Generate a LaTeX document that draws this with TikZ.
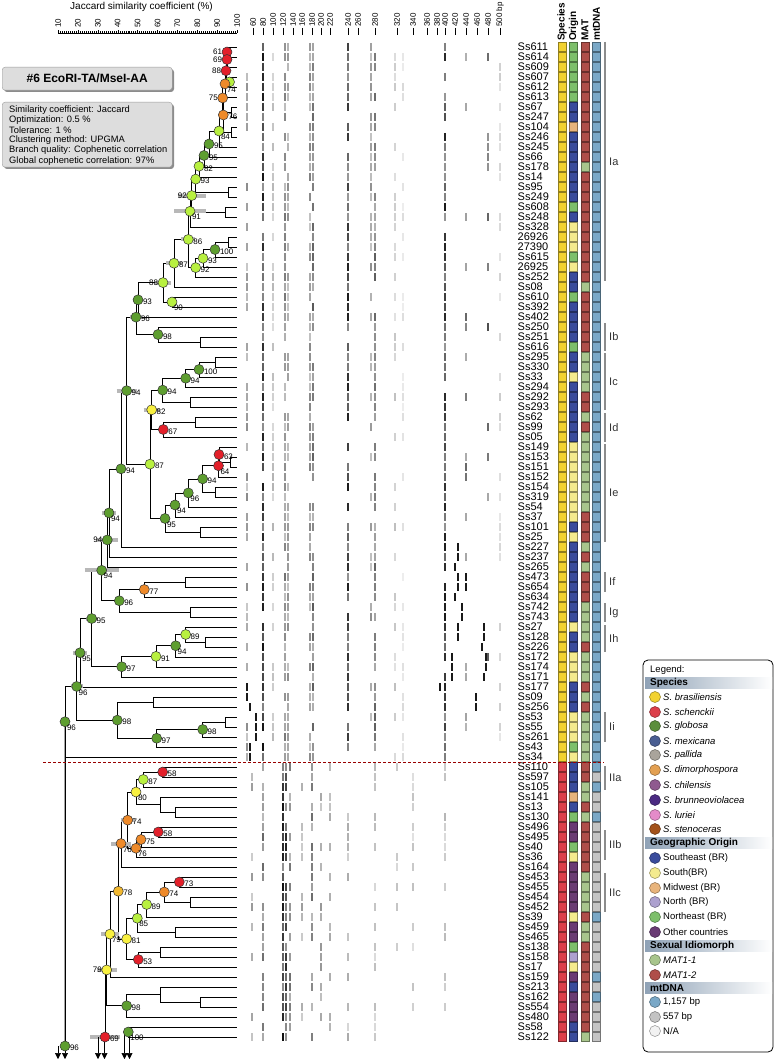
\documentclass[tikz,border=0pt]{standalone}
\usepackage{fontspec}
\setmainfont{Liberation Sans}
\usetikzlibrary{calc,arrows.meta}
\definecolor{spY}{HTML}{F2D230}
\definecolor{spR}{HTML}{DC3F4A}
\definecolor{orB}{HTML}{3A4C9C}
\definecolor{orY}{HTML}{F4EB8E}
\definecolor{orM}{HTML}{E8B47C}
\definecolor{orN}{HTML}{ADA1CF}
\definecolor{orE}{HTML}{7DBF6B}
\definecolor{orO}{HTML}{6A3B74}
\definecolor{matG}{HTML}{A8C58C}
\definecolor{matR}{HTML}{AF4E49}
\definecolor{mtL}{HTML}{7AA8C7}
\definecolor{mtS}{HTML}{C3C3C3}
\definecolor{mtN}{HTML}{F2F2F2}
\definecolor{lgGlo}{HTML}{5B8E3C}
\definecolor{lgMex}{HTML}{4A5E92}
\definecolor{lgPal}{HTML}{A9A49B}
\definecolor{lgDim}{HTML}{E3A052}
\definecolor{lgChi}{HTML}{8F5A8F}
\definecolor{lgBru}{HTML}{4B2A82}
\definecolor{lgLur}{HTML}{E48BC9}
\definecolor{lgSte}{HTML}{A3521B}
\definecolor{ndR}{HTML}{E3202A}
\definecolor{ndO}{HTML}{EE8A2A}
\definecolor{ndYO}{HTML}{F2B830}
\definecolor{ndY}{HTML}{F8F040}
\definecolor{ndLG}{HTML}{B8F040}
\definecolor{ndDG}{HTML}{5E9E30}
\definecolor{hdr}{HTML}{8FA2B6}
\definecolor{boxg}{HTML}{DDDDDD}
\pgfdeclarelayer{bg}
\pgfsetlayers{bg,main}
\tikzset{
  sq/.style={minimum width=8pt, minimum height=8.5pt, inner sep=0pt, fill=#1, draw=#1!60!black, line width=0.6pt},
  br/.style={line width=0.6pt, black},
  tnd/.style={circle, minimum size=10pt, inner sep=0pt, draw=black!80, line width=0.5pt, fill=#1},
  lgc/.style={circle, minimum size=11pt, inner sep=0pt, draw=#1!60!black, line width=0.5pt, fill=#1},
  lgt/.style={anchor=west, inner sep=0pt, font=\fontsize{9.5}{10}\selectfont},
  lgh/.style={anchor=west, inner sep=0pt, font=\fontsize{10}{10}\selectfont\bfseries},
  cl/.style={line width=1.4pt, black!45},
  cllab/.style={anchor=west, inner sep=0pt, font=\fontsize{11}{11}\selectfont, black!80},
  nlab/.style={inner sep=0.3pt, font=\fontsize{8}{8}\selectfont},
  lpr/.style={anchor=west, xshift=4.5pt, yshift=-2pt},
  lpl/.style={anchor=east, xshift=-4.5pt},
  lpb/.style={anchor=north west, xshift=1.5pt, yshift=-2.5pt},
  lpn/.style={opacity=0},
  ebar/.style={line width=4pt, black!28},
  darr/.style={line width=0.6pt, -{Triangle[length=6pt, width=6pt]}},
  band/.style={line width=1.3pt},
}
\newcommand\tnode[4]{% name, x, child1, child2
  \path let \p1=($(#3)!.5!(#4)$) in coordinate (#1) at (#2pt, \y1);
  \begin{pgfonlayer}{bg}\draw[br] (#1) |- (#3); \draw[br] (#1) |- (#4);\end{pgfonlayer}}
\newcommand\cnode[4]{% name, colour, label, label side
  \node[tnd=#2] (c-#1) at (#1) {}; \node[nlab, lp#4] (t-#1) at (#1) {#3};}
\newcommand\errbar[2]{% name, half width
  \begin{pgfonlayer}{bg}\draw[ebar] ($(#1)+(-#2,0)$) -- ($(#1)+(#2,0)$);\end{pgfonlayer}}
\begin{document}
\begin{tikzpicture}[x=1pt,y=-1pt]
\useasboundingbox (0,0) rectangle (776,1059);
% ---------- header
\node[anchor=west, inner sep=0pt, font=\fontsize{10}{10}\selectfont] (jtitle) at (70,7) {Jaccard similarity coefficient (\%)};
\draw[line width=0.5pt] (58,33) -- (237,33);
\foreach \v in {10,...,100} { \draw[line width=0.3pt] ({38.1+1.99*\v},33) -- ({38.1+1.99*\v},31.5); }
\foreach \v in {10,20,...,100} {
  \draw[line width=0.4pt] ({38.1+1.99*\v},33) -- ({38.1+1.99*\v},30);
  \node[rotate=90, anchor=west, inner sep=0pt, font=\fontsize{8}{8}\selectfont] (jl\v) at ({38.1+1.99*\v},28) {\v};
}
\foreach \b/\x in {60/253,80/263,100/273,120/283,140/293,160/302,180/312,200/321,220/330,240/348,260/358,280/375,320/397,340/413,360/427,380/437,400/445,420/455,440/466,460/477,480/488} {
  \draw[line width=0.5pt] (\x,28) -- (\x,35);
  \node[rotate=90, anchor=west, inner sep=0pt, font=\fontsize{8}{8}\selectfont] (bl\b) at (\x,27) {\b};
}
\draw[line width=0.5pt] (500,28) -- (500,35);
\node[rotate=90, anchor=west, inner sep=0pt, font=\fontsize{8}{8}\selectfont] (bl500) at (500,27) {500 bp};
\foreach \t/\x in {Species/562,Origin/573.5,MAT/585,mtDNA/596.5} {
  \node[rotate=90, anchor=west, inner sep=0pt, font=\fontsize{10}{10}\selectfont\bfseries] (h\t) at (\x,41) {\t};
}
% ---------- info boxes
\fill[black!45, rounded corners=3pt] (4,69) rectangle (174,92);
\node[draw=black!40, fill=boxg, rounded corners=3pt, minimum width=170pt, minimum height=23pt, anchor=north west, inner sep=0pt, font=\fontsize{12}{12}\selectfont\bfseries] (title) at (2,67) {\#6 EcoRI-TA/MseI-AA};
\fill[black!45, rounded corners=3pt] (4,104) rectangle (174,169);
\node[draw=black!40, fill=boxg, rounded corners=3pt, minimum width=170pt, minimum height=65pt, anchor=north west, inner sep=0pt] (info) at (2,102) {};
\foreach \t [count=\k] in {Similarity coefficient: Jaccard, Optimization: 0.5 \%, Tolerance: 1 \%, Clustering method: UPGMA, Branch quality: Cophenetic correlation, Global cophenetic correlation: 97\%} {
  \node[anchor=west, inner sep=0pt, font=\fontsize{9.3}{10}\selectfont] (info\k) at (9,{99.5+10.2*\k}) {\t};
}
% ---------- leaves
\foreach \i in {1,...,100} { \coordinate (L\i) at (237,{47+10*(\i-1)}); }
% ---------- gel bands (pseudo pattern)
\pgfmathsetseed{11}
\foreach \r in {1,...,72} {
  \pgfmathsetmacro\yy{47+10*(\r-1)}
  \foreach \bx/\p/\d in {247/.5/45, 263/.95/95, 273/.6/30, 285/.8/55, 288/.7/45, 310/.7/50, 313/.8/65, 348/.9/90, 371/.6/45, 375/.8/65, 395/.5/25, 403/.4/15, 445/.9/90, 466/.2/60, 488/.2/70, 500/.4/20} {
    \pgfmathparse{rnd<\p ? 1 : 0}
    \ifnum\pgfmathresult=1
      \pgfmathsetmacro\sh{\d*(0.45+0.55*rnd)}
      \draw[band, black!\sh] (\bx,\yy-4) -- (\bx,\yy+4);
    \fi
  }
}
\foreach \r/\bx in {51/458,52/458,53/455,54/458,55/458,56/455,57/462,58/462,54/466,55/466,59/484,60/484,61/482,62/486,63/486,64/484,59/458,60/458,62/452,63/452,64/452,65/440,66/476,67/476,65/247,66/247,67/250,68/256,69/256,70/256,71/250,72/250} {
  \pgfmathsetmacro\yy{47+10*(\r-1)}
  \draw[line width=2pt, black!90] (\bx,\yy-4) -- (\bx,\yy+4);
}
\foreach \r in {73,...,100} {
  \pgfmathsetmacro\yy{47+10*(\r-1)}
  \foreach \bx/\p/\d in {252/.5/40, 263/.7/60, 283/.95/95, 286/.9/90, 290/.6/60, 302/.5/40, 312/.7/60, 321/.6/45, 330/.5/35, 348/.5/35, 375/.5/30, 397/.4/25, 413/.4/25, 445/.5/30} {
    \pgfmathparse{rnd<\p ? 1 : 0}
    \ifnum\pgfmathresult=1
      \pgfmathsetmacro\sh{\d*(0.45+0.55*rnd)}
      \draw[band, black!\sh] (\bx,\yy-4) -- (\bx,\yy+4);
    \fi
  }
}
% ---------- labels and squares
\foreach \i/\lab/\o/\m/\t in {1/Ss611/E/R/L,2/Ss614/E/R/L,3/Ss609/E/R/L,4/Ss607/E/R/L,5/Ss612/E/R/L,6/Ss613/E/R/L,7/Ss67/B/R/L,8/Ss247/B/R/L,9/Ss104/M/R/L,10/Ss246/B/R/L,11/Ss245/B/R/L,12/Ss66/B/R/L,13/Ss178/B/G/L,14/Ss14/B/R/L,15/Ss95/B/R/L,16/Ss249/B/R/L,17/Ss608/E/R/L,18/Ss248/B/R/L,19/Ss328/Y/R/L,20/26926/Y/R/L,21/27390/Y/R/L,22/Ss615/E/R/L,23/26925/Y/R/L,24/Ss252/B/R/L,25/Ss08/B/G/L,26/Ss610/E/R/L,27/Ss392/B/R/L,28/Ss402/B/R/L,29/Ss250/B/R/L,30/Ss251/B/R/L,31/Ss616/E/R/L,32/Ss295/B/G/L,33/Ss330/B/G/L,34/Ss33/Y/G/L,35/Ss294/B/G/L,36/Ss292/B/R/L,37/Ss293/B/R/L,38/Ss62/B/G/L,39/Ss99/B/R/L,40/Ss05/B/G/L,41/Ss149/Y/G/L,42/Ss153/Y/G/L,43/Ss151/Y/G/L,44/Ss152/Y/G/L,45/Ss154/Y/G/L,46/Ss319/Y/G/L,47/Ss54/Y/G/L,48/Ss37/Y/R/L,49/Ss101/B/R/L,50/Ss25/Y/R/L,51/Ss227/B/G/L,52/Ss237/B/R/L,53/Ss265/B/G/L,54/Ss473/B/R/L,55/Ss654/B/R/L,56/Ss634/B/R/L,57/Ss742/B/G/L,58/Ss743/B/G/L,59/Ss27/Y/G/L,60/Ss128/B/G/L,61/Ss226/B/R/L,62/Ss172/Y/G/L,63/Ss174/Y/G/L,64/Ss171/Y/G/L,65/Ss177/B/R/L,66/Ss09/B/G/L,67/Ss256/B/R/L,68/Ss53/Y/G/L,69/Ss55/Y/G/L,70/Ss261/Y/G/L,71/Ss43/E/G/L,72/Ss34/Y/G/L,73/Ss110/B/R/L,74/Ss597/B/R/S,75/Ss105/B/G/L,76/Ss141/M/G/S,77/Ss13/B/R/S,78/Ss130/E/G/L,79/Ss496/O/R/S,80/Ss495/O/R/S,81/Ss40/E/R/S,82/Ss36/Y/R/S,83/Ss164/O/R/S,84/Ss453/O/G/S,85/Ss455/O/G/S,86/Ss454/O/G/S,87/Ss452/O/G/S,88/Ss39/Y/R/L,89/Ss459/O/G/S,90/Ss465/O/G/S,91/Ss138/E/R/S,92/Ss158/N/R/S,93/Ss17/Y/R/S,94/Ss159/O/R/L,95/Ss213/B/R/S,96/Ss162/O/R/L,97/Ss554/O/R/S,98/Ss480/O/R/S,99/Ss58/B/R/S,100/Ss122/B/G/S} {
  \pgfmathsetmacro\yy{47+10*(\i-1)}
  \node[anchor=west, inner sep=0pt, font=\fontsize{11}{11}\selectfont] (lab\i) at (517.5,\yy) {\lab};
  \ifnum\i<73 \def\spc{spY}\else\def\spc{spR}\fi
  \node[sq=\spc] (sa\i) at (562,\yy) {};
  \node[sq=or\o] (sb\i) at (573.5,\yy) {};
  \node[sq=mat\m] (sc\i) at (585,\yy) {};
  \node[sq=mt\t] (sd\i) at (596.5,\yy) {};
}
% ---------- clade bars
\foreach \a/\b/\t in {42/281/Ia, 323/351/Ib, 353/410/Ic, 413/442/Id, 444/542/Ie, 572/592/If, 603/622/Ig, 625/652/Ih, 712/742/Ii, 766/790/IIa, 830/860/IIb, 873/912/IIc} {
  \draw[cl] (605,\a) -- (605,\b);
  \node[cllab] (c\t) at (609,{(\a+\b)/2}) {\t};
}
% ---------- dashed separator
\draw[red!60!black, line width=0.6pt, dash pattern=on 3pt off 2pt] (43,762) -- (604,762);
% ---------- tree: cluster I
\tnode{n1}{227}{L1}{L2}
\tnode{n2}{227}{n1}{L3}
\tnode{n3}{229.5}{L4}{L5}
\tnode{n4}{226}{n2}{n3}
\tnode{n5}{225}{n4}{L6}
\tnode{n6a}{231}{L7}{L8}
\tnode{n6}{222.7}{n5}{n6a}
\tnode{n7a}{231}{L9}{L10}
\tnode{n7}{223.3}{n6}{n7a}
\tnode{n8}{219}{n7}{L11}
\tnode{n9}{209}{n8}{L12}
\tnode{n10}{204}{n9}{L13}
\tnode{n11}{199}{n10}{L14}
\tnode{n12a}{228}{L15}{L16}
\tnode{n12}{195.7}{n11}{n12a}
\tnode{n13a}{225}{L17}{L18}
\tnode{n13}{191.7}{n12}{n13a}
\tnode{n14}{190}{n13}{L19}
\tnode{n16a}{228}{L20}{L21}
\tnode{n16}{215}{n16a}{L22}
\tnode{n17}{203}{n16}{L23}
\tnode{n18}{195.7}{n17}{L24}
\tnode{n86}{188.3}{n14}{n18}
\tnode{n87}{174}{n86}{L25}
\tnode{n90}{172}{L26}{L27}
\tnode{n88}{163}{n87}{n90}
\tnode{n93}{138}{n88}{L28}
\tnode{b1}{200}{L30}{L31}
\tnode{b2}{158}{L29}{b1}
\tnode{n96}{136}{n93}{b2}
\tnode{c1}{215}{L32}{L33}
\tnode{a1}{199}{c1}{L34}
\tnode{a2}{185.7}{a1}{L35}
\tnode{cb}{190}{L36}{L37}
\tnode{a3}{162.7}{a2}{cb}
\tnode{d1}{195}{L38}{L39}
\tnode{d2}{163.3}{d1}{L40}
\tnode{k82}{151.7}{a3}{d2}
\tnode{e0}{230}{L42}{L43}
\tnode{e1}{219}{L41}{e0}
\tnode{e2}{218.5}{e1}{L44}
\tnode{e3a}{215}{L45}{L46}
\tnode{e3}{202.7}{e2}{e3a}
\tnode{e4}{188.3}{e3}{L47}
\tnode{e5}{175}{e4}{L48}
\tnode{e6a}{200}{L49}{L50}
\tnode{e6}{165}{e5}{e6a}
\tnode{k87}{150}{k82}{e6}
\tnode{m94a}{126.7}{n96}{k87}
\tnode{m94b}{121}{m94a}{L51}
\tnode{m94c}{109}{m94b}{L52}
\tnode{m94d}{107.3}{m94c}{L53}
\tnode{f1}{185}{L54}{L55}
\tnode{f77}{144.3}{f1}{L56}
\tnode{g1}{190}{L57}{L58}
\tnode{f96}{119.3}{f77}{g1}
\tnode{m94e}{101.7}{m94d}{f96}
\tnode{h1}{205}{L60}{L61}
\tnode{h89}{185.7}{L59}{h1}
\tnode{h94}{175.7}{h89}{L62}
\tnode{h91}{156}{h94}{L63}
\tnode{h97}{121.7}{h91}{L64}
\tnode{m95}{91.7}{m94e}{h97}
\tnode{m95b}{80}{m95}{L65}
\tnode{i1}{153}{L66}{L67}
\tnode{i2}{225}{L68}{L69}
\tnode{i98}{202.7}{i2}{L70}
\tnode{i97}{156.7}{i98}{L71}
\tnode{i98b}{117.3}{i1}{i97}
\tnode{m96}{76.7}{m95b}{i98b}
\tnode{root1}{65}{m96}{L72}
% ---------- tree: cluster II
\tnode{s1}{162.7}{L73}{L74}
\tnode{s2}{143.3}{s1}{L75}
\tnode{s3}{175}{L77}{L78}
\tnode{s4}{160}{L76}{s3}
\tnode{s5}{136}{s2}{s4}
\tnode{s6}{158.3}{L79}{L80}
\tnode{s7}{141}{s6}{L81}
\tnode{s8}{136}{s7}{L82}
\tnode{s9}{127.7}{s5}{s8}
\tnode{s10}{121}{s9}{L83}
\tnode{t1}{179.3}{L84}{L85}
\tnode{t2a}{190}{L86}{L87}
\tnode{t2}{164.3}{t1}{t2a}
\tnode{t3}{146.7}{t2}{L88}
\tnode{t4a}{175}{L89}{L90}
\tnode{t4}{137.3}{t3}{t4a}
\tnode{u1}{160}{L91}{L92}
\tnode{u53}{138.3}{u1}{L93}
\tnode{u81}{126.7}{t4}{u53}
\tnode{w78}{118.3}{s10}{u81}
\tnode{w79a}{110}{w78}{L94}
\tnode{v1a}{200}{L96}{L97}
\tnode{v1}{160}{L95}{v1a}
\tnode{v98}{126.7}{v1}{L98}
\tnode{w79b}{106.7}{w79a}{v98}
\tnode{x100}{128.3}{L99}{L100}
% ---------- bottom continuation
\coordinate (z96) at (65,1046);
\coordinate (z69) at (105,1037);
\begin{pgfonlayer}{bg}
\draw[line width=2.2pt, black!35] (root1) -- (z96);
\draw[br] (root1) -- (z96);
\draw[br] (w79b) -| (z69);
\end{pgfonlayer}
\draw[darr] (58,1046) -- (58,1059);
\draw[darr] (65,1046) -- (65,1059);
\draw[darr] (98,1037) -- (98,1059);
\draw[darr] (104.5,1037) -- (104.5,1059);
\draw[darr] (124.5,1032) -- (124.5,1059);
\draw[darr] (129.5,1032) -- (129.5,1059);
% ---------- error bars
\errbar{n13}{14} \errbar{n14}{16} \errbar{n87}{8} \errbar{n88}{8} \errbar{n96}{6}
\errbar{m94a}{10} \errbar{k82}{8} \errbar{m94d}{11} \errbar{m94e}{17} \errbar{m95b}{7}
\errbar{m96}{6} \errbar{s9}{7} \errbar{s10}{10} \errbar{w79a}{9} \errbar{w79b}{10} \errbar{z69}{15}
\errbar{m95}{6} \errbar{m94c}{7} \errbar{n86}{7} \errbar{n93}{5}
% ---------- node circles
\cnode{n1}{ndR}{61}{l} \cnode{n2}{ndR}{69}{l} \cnode{n3}{ndLG}{}{n} \cnode{n4}{ndR}{88}{l}
\cnode{n5}{ndO}{74}{b} \cnode{n6}{ndO}{75}{l} \cnode{n7}{ndO}{76}{r} \cnode{n8}{ndLG}{84}{b}
\cnode{n9}{ndDG}{95}{r} \cnode{n10}{ndDG}{95}{r} \cnode{n11}{ndLG}{82}{r} \cnode{n12}{ndLG}{93}{r}
\cnode{n13}{ndLG}{92}{l} \cnode{n14}{ndLG}{91}{b} \cnode{n16}{ndDG}{100}{r} \cnode{n17}{ndLG}{93}{r}
\cnode{n18}{ndLG}{92}{r} \cnode{n86}{ndLG}{86}{r} \cnode{n87}{ndLG}{87}{r} \cnode{n90}{ndLG}{90}{b}
\cnode{n88}{ndLG}{88}{l} \cnode{n93}{ndDG}{93}{r} \cnode{b2}{ndDG}{98}{r} \cnode{n96}{ndDG}{96}{r}
\cnode{a1}{ndDG}{100}{r} \cnode{a2}{ndDG}{94}{r} \cnode{a3}{ndDG}{94}{r} \cnode{d2}{ndR}{67}{r}
\cnode{k82}{ndY}{82}{r} \cnode{e1}{ndR}{63}{r} \cnode{e2}{ndR}{64}{b} \cnode{e3}{ndDG}{94}{r}
\cnode{e4}{ndDG}{96}{b} \cnode{e5}{ndDG}{94}{b} \cnode{e6}{ndDG}{95}{b} \cnode{k87}{ndLG}{87}{r}
\cnode{m94a}{ndDG}{94}{r} \cnode{m94b}{ndDG}{94}{r} \cnode{m94c}{ndDG}{94}{b} \cnode{m94d}{ndDG}{94}{l}
\cnode{f77}{ndO}{77}{r} \cnode{f96}{ndDG}{96}{r} \cnode{m94e}{ndDG}{94}{b} \cnode{h89}{ndLG}{89}{r}
\cnode{h94}{ndDG}{94}{b} \cnode{h91}{ndLG}{91}{r} \cnode{h97}{ndDG}{97}{r} \cnode{m95}{ndDG}{95}{r}
\cnode{m95b}{ndDG}{95}{b} \cnode{i98}{ndDG}{98}{r} \cnode{i97}{ndDG}{97}{r} \cnode{i98b}{ndDG}{98}{r}
\cnode{m96}{ndDG}{96}{b} \cnode{root1}{ndDG}{96}{b}
\cnode{s1}{ndR}{58}{r} \cnode{s2}{ndLG}{87}{r} \cnode{s5}{ndY}{80}{b} \cnode{s6}{ndR}{58}{r}
\cnode{s7}{ndO}{75}{r} \cnode{s8}{ndO}{76}{b} \cnode{s9}{ndO}{74}{r} \cnode{s10}{ndO}{76}{b}
\cnode{t1}{ndR}{73}{r} \cnode{t2}{ndO}{74}{r} \cnode{t3}{ndLG}{89}{r} \cnode{t4}{ndLG}{85}{b}
\cnode{u53}{ndR}{53}{r} \cnode{u81}{ndY}{81}{r} \cnode{w78}{ndYO}{78}{r} \cnode{w79a}{ndY}{79}{b}
\cnode{v98}{ndDG}{98}{r} \cnode{w79b}{ndY}{79}{l} \cnode{x100}{ndDG}{100}{b}
\cnode{z96}{ndDG}{96}{r} \cnode{z69}{ndR}{69}{r}
% ---------- legend
\draw[line width=0.8pt, rounded corners=5pt] (643,660) rectangle (773,1052);
\node[lgt] (lg0) at (650,670) {Legend:};
\foreach \y/\t in {683/Species, 843/Geographic Origin, 946/Sexual Idiomorph, 988/mtDNA} {
  \shade[left color=hdr, right color=white] (645,{\y-5.5}) rectangle (772,{\y+5.5});
  \node[lgh] (h-\t) at (650,\y) {\t};
}
\foreach \y/\c/\t in {697/spY/S. brasiliensis, 712/spR/S. schenckii, 726/lgGlo/S. globosa, 741/lgMex/S. mexicana, 755/lgPal/S. pallida, 770/lgDim/S. dimorphospora, 785/lgChi/S. chilensis, 800/lgBru/S. brunneoviolacea, 815/lgLur/S. luriei, 829/lgSte/S. stenoceras} {
  \node[lgc=\c] (lc\y) at (655,\y) {};
  \node[lgt, font=\fontsize{9.5}{10}\selectfont\itshape] (lt\y) at (663,\y) {\t};
}
\foreach \y/\c/\t in {858/orB/Southeast (BR), 873/orY/South(BR), 888/orM/Midwest (BR), 902/orN/North (BR), 917/orE/Northeast (BR), 932/orO/Other countries, 1002/mtL/{1,157 bp}, 1017/mtS/557 bp, 1031/mtN/{N/A}} {
  \node[lgc=\c] (lc\y) at (655,\y) {};
  \node[lgt] (lt\y) at (663,\y) {\t};
}
\foreach \y/\c/\t in {960/matG/MAT1-1, 975/matR/MAT1-2} {
  \node[lgc=\c] (lc\y) at (655,\y) {};
  \node[lgt, font=\fontsize{9.5}{10}\selectfont\itshape] (lt\y) at (663,\y) {\t};
}
\end{tikzpicture}
\end{document}
